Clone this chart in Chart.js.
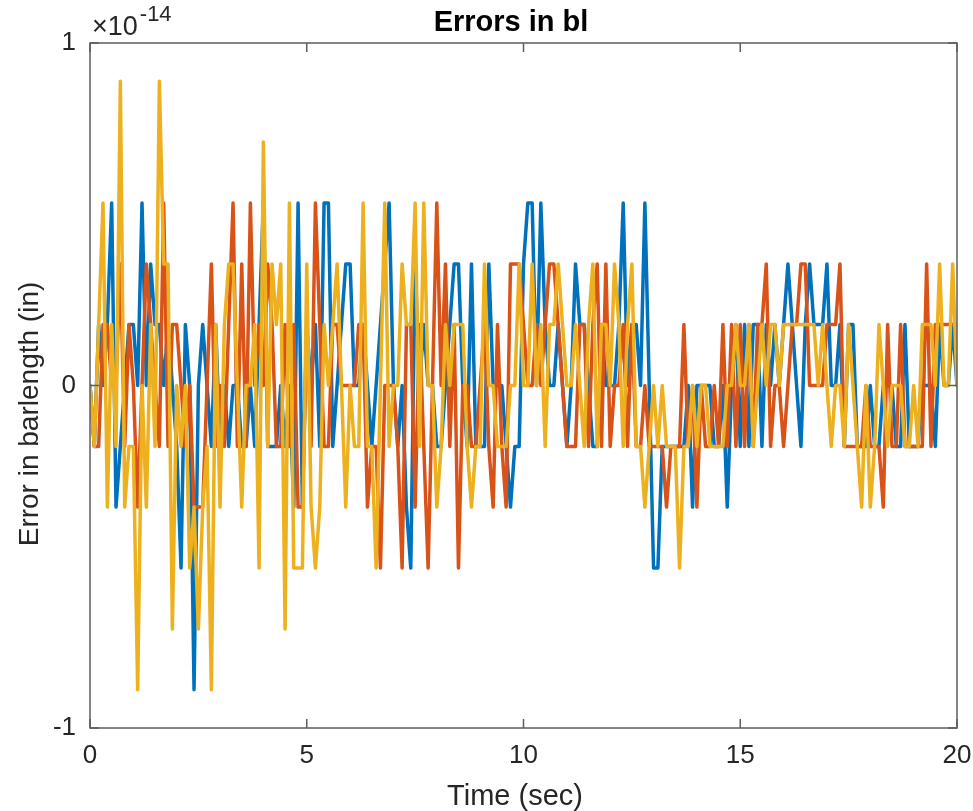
<!DOCTYPE html>
<html>
<head>
<meta charset="utf-8">
<script src="https://cdn.jsdelivr.net/npm/chart.js@4.4.1/dist/chart.umd.min.js"></script>
<style>
  html, body { margin: 0; padding: 0; background: #ffffff; }
  #wrap { width: 973px; height: 811px; position: relative; }
</style>
</head>
<body>
<div id="wrap"><canvas id="c" width="973" height="811"></canvas></div>
<script>
// ---------------- DATA (errors in units of 1e-14 in) ----------------
const timeStep = 0.1;            // sec between samples
const xTicks = [0, 5, 10, 15, 20];
const yTicks = [-1, 0, 1];
const chartTitle = 'Errors in bl';
const xLabel = 'Time (sec)';
const yLabel = 'Error in barlength (in)';

const errBlue = [
  0,-0.178,0.178,0,0.178,0.533,-0.355,-0.178,0,0.178,0.178,0,0.533,0,0.355,0.178,0.178,0,0.178,0,-0.178,-0.533,0.178,0,-0.888,
  0,0.178,0,-0.178,0.178,-0.178,0,-0.178,0,0,-0.178,-0.178,0,-0.178,0.178,0.533,-0.178,-0.178,-0.178,0,-0.178,0,-0.355,0.533,
  -0.355,0.178,0,0.178,-0.178,0.533,0.533,-0.178,0,0.178,0.355,0.355,0,0,0.178,0,-0.178,0,0.178,0.355,0.533,0,-0.178,0,
  -0.355,-0.533,0.355,0,0.178,0,0,-0.178,-0.178,0,0.178,0.355,0.355,0,-0.178,0.355,-0.178,-0.178,-0.178,0.355,0,0,0,-0.178,
  -0.355,-0.178,-0.178,0.355,0.533,0.533,0,0.533,0.178,0,0,0.178,0,-0.178,0,0.355,0.178,0.178,0,-0.178,-0.178,0.178,0,0,
  0,0.178,0.533,0,0.178,0.178,0,0.533,0,-0.533,-0.533,-0.178,-0.178,-0.178,-0.178,-0.178,-0.178,0,-0.355,0,0,0,0,-0.178,
  -0.178,0,-0.355,0,0.178,-0.178,0.178,-0.178,0.178,0.178,-0.178,0.178,0,0.178,0,0.178,0.355,0.178,0,-0.178,0.178,0.355,0.178,0.178,0.178,
  0.355,0,0,0.178,-0.178,0.178,0.178,-0.178,-0.178,-0.178,0,-0.178,-0.178,0,0,0,-0.178,-0.178,0.178,-0.178,-0.178,-0.178,0,0,0,-0.178,0.178,0,0,0.178,0
];

const errOrange = [
  0,-0.178,-0.178,0.178,0.178,0,0,0.355,-0.178,0.178,0,-0.355,0,0.355,0.178,0,-0.178,0.533,-0.178,0.178,0.178,0,-0.178,0,-0.355,
  -0.355,-0.355,0,0.355,-0.178,0,-0.178,0.178,0.533,-0.178,0.355,-0.178,0.533,0,0.178,0,0.355,0.178,-0.178,-0.178,0.178,-0.178,0.178,-0.355,
  -0.355,0.178,-0.178,0.533,0.178,-0.178,-0.178,0.178,0.178,0,0,0,0,0.178,0.178,-0.355,-0.178,-0.178,-0.533,0,0,0,-0.178,-0.533,
  0.178,0.178,-0.355,0.178,-0.178,-0.533,0,0.533,0,0.355,-0.178,0.178,-0.533,0,0,-0.178,-0.178,0,0.178,-0.178,-0.355,0.178,-0.178,-0.355,
  0.355,0.355,0.355,0.178,0,0,0.178,0,0.178,0.355,0.355,0.178,0,-0.178,-0.178,-0.178,0.178,0.178,-0.178,0.178,0.355,-0.178,0.355,-0.178,
  0,0,0.178,-0.178,0.178,-0.178,-0.178,0,-0.178,-0.178,-0.178,-0.178,-0.355,-0.178,-0.178,-0.178,0.178,-0.178,0,-0.355,0,-0.178,-0.178,0,
  -0.178,0.178,-0.178,0.178,-0.178,0.178,-0.178,0.178,-0.178,0.178,0.178,0.355,-0.178,0,0,-0.178,0,0.178,0.178,0.355,0.355,0,0,0,0,
  0.178,0.178,0.178,0.355,-0.178,-0.178,-0.178,-0.178,-0.178,0,-0.178,-0.178,-0.178,-0.355,0.178,-0.178,-0.178,0.178,-0.178,-0.178,-0.178,-0.178,-0.178,0.355,-0.178,0.178,0.178,0.178,0.178,0.178,0.178
];

const errYellow = [
  0,-0.178,0.178,0.533,-0.355,0.178,-0.178,0.888,-0.355,-0.178,-0.178,-0.888,0,-0.355,0.178,-0.178,0.888,0.355,0.355,-0.711,0,-0.178,0,-0.533,-0.355,
  -0.711,-0.355,-0.178,-0.888,0.178,-0.355,0.178,0.355,0.355,0,-0.355,0,0,0.178,-0.533,0.711,-0.178,0.355,0.178,0.355,-0.711,0.533,-0.533,-0.533,
  -0.533,0.355,-0.355,-0.533,-0.355,0.178,0,0.178,0.355,0,-0.355,0,-0.178,-0.178,0.533,-0.178,-0.178,-0.533,0,0.533,-0.178,0,0,0.355,
  0.178,0.178,0.533,-0.178,0.533,0,0,-0.355,-0.178,0.178,0,0.178,0.178,0.178,-0.178,-0.355,-0.178,-0.178,0.355,0,0,-0.178,-0.178,-0.178,
  0,0,0.355,0,0,0.355,0,0.178,-0.178,0.178,0.178,0.355,0.178,0,0,0.178,0,-0.178,0.178,0.355,-0.178,0.178,0.178,0,
  0.355,0.178,-0.178,0.178,0.355,-0.178,-0.178,-0.355,-0.178,0,-0.178,0,-0.178,-0.178,-0.178,-0.533,-0.178,-0.178,0,-0.178,0,0,-0.178,-0.178,
  -0.178,-0.178,0,0,0.178,0,0,0.178,-0.178,0,0.178,0,0.178,0.178,0,0.178,0.178,0.178,0.178,0.178,0.178,0.178,0.178,0,0.178,
  0,-0.178,0,0,-0.178,0.178,0,-0.178,-0.355,0,-0.355,-0.178,0.178,0,-0.178,0,0,0,-0.178,-0.178,0,-0.178,0.178,0.178,0.178,0,0.355,0,0,0.355,0
];

// ---------------- STYLE ----------------
const COLORS = { blue: '#0072BD', orange: '#D95319', yellow: '#EDB120' };
const AXIS_COLOR = '#5e5e5e';
const TEXT_COLOR = '#262626';
const FONT = '"Liberation Sans", Arial, Helvetica, sans-serif';

function toPoints(vals) {
  return vals.map((v, i) => ({ x: Math.round(i * timeStep * 1000) / 1000, y: v }));
}

const boxPlugin = {
  id: 'matlabBox',
  afterDraw(chart) {
    const ctx = chart.ctx;
    const a = chart.chartArea;
    const xs = chart.scales.x, ys = chart.scales.y;
    const tl = 9;
    ctx.save();
    ctx.strokeStyle = AXIS_COLOR;
    ctx.lineWidth = 1.5;
    ctx.strokeRect(a.left, a.top, a.right - a.left, a.bottom - a.top);
    ctx.beginPath();
    xTicks.forEach(t => {
      const px = xs.getPixelForValue(t);
      ctx.moveTo(px, a.bottom); ctx.lineTo(px, a.bottom - tl);
      ctx.moveTo(px, a.top); ctx.lineTo(px, a.top + tl);
    });
    yTicks.forEach(t => {
      const py = ys.getPixelForValue(t);
      ctx.moveTo(a.left, py); ctx.lineTo(a.left + tl, py);
      ctx.moveTo(a.right, py); ctx.lineTo(a.right - tl, py);
    });
    ctx.stroke();

    // title
    ctx.fillStyle = '#000000';
    ctx.font = 'bold 29px ' + FONT;
    ctx.textAlign = 'center';
    ctx.textBaseline = 'alphabetic';
    ctx.fillText(chartTitle, 511, 31);

    // exponent label
    ctx.fillStyle = TEXT_COLOR;
    ctx.textAlign = 'left';
    ctx.font = '27px ' + FONT;
    ctx.fillText('\u00D710', 92, 35);
    const w = ctx.measureText('\u00D710').width;
    ctx.font = '22px ' + FONT;
    ctx.fillText('-14', 92 + w + 2, 21);

    // x label
    ctx.font = '29px ' + FONT;
    ctx.textAlign = 'center';
    ctx.fillText(xLabel, 515, 805);

    // y label
    ctx.save();
    ctx.translate(38, 414);
    ctx.rotate(-Math.PI / 2);
    ctx.textAlign = 'center';
    ctx.font = '28px ' + FONT;
    ctx.fillText(yLabel, 0, 0);
    ctx.restore();

    ctx.restore();
  }
};

const ctx = document.getElementById('c').getContext('2d');
new Chart(ctx, {
  type: 'line',
  data: {
    datasets: [
      { label: 'bl1', data: toPoints(errBlue), borderColor: COLORS.blue, order: 3 },
      { label: 'bl2', data: toPoints(errOrange), borderColor: COLORS.orange, order: 2 },
      { label: 'bl3', data: toPoints(errYellow), borderColor: COLORS.yellow, order: 1 }
    ]
  },
  options: {
    responsive: false,
    animation: false,
    devicePixelRatio: 1,
    layout: { padding: { top: 43, right: 16, left: 0, bottom: 0 } },
    elements: {
      line: { borderWidth: 3.5, tension: 0, fill: false, borderJoinStyle: 'round', borderCapStyle: 'round' },
      point: { radius: 0, hoverRadius: 0 }
    },
    plugins: { legend: { display: false }, tooltip: { enabled: false }, title: { display: false } },
    scales: {
      x: {
        type: 'linear', min: 0, max: 20,
        afterBuildTicks(scale) { scale.ticks = xTicks.map(v => ({ value: v })); },
        afterFit(scale) { scale.height = 83; scale.paddingLeft = 0; scale.paddingRight = 0; },
        ticks: { color: TEXT_COLOR, font: { family: FONT, size: 26 }, padding: 12, maxRotation: 0 },
        grid: { drawOnChartArea: false, drawTicks: false },
        border: { display: false }
      },
      y: {
        type: 'linear', min: -1, max: 1,
        afterBuildTicks(scale) { scale.ticks = yTicks.map(v => ({ value: v })); },
        afterFit(scale) { scale.width = 90; scale.paddingTop = 0; scale.paddingBottom = 0; },
        ticks: { color: TEXT_COLOR, font: { family: FONT, size: 26 }, padding: 14 },
        grid: { drawOnChartArea: false, drawTicks: false },
        border: { display: false }
      }
    }
  },
  plugins: [boxPlugin]
});
</script>
</body>
</html>
